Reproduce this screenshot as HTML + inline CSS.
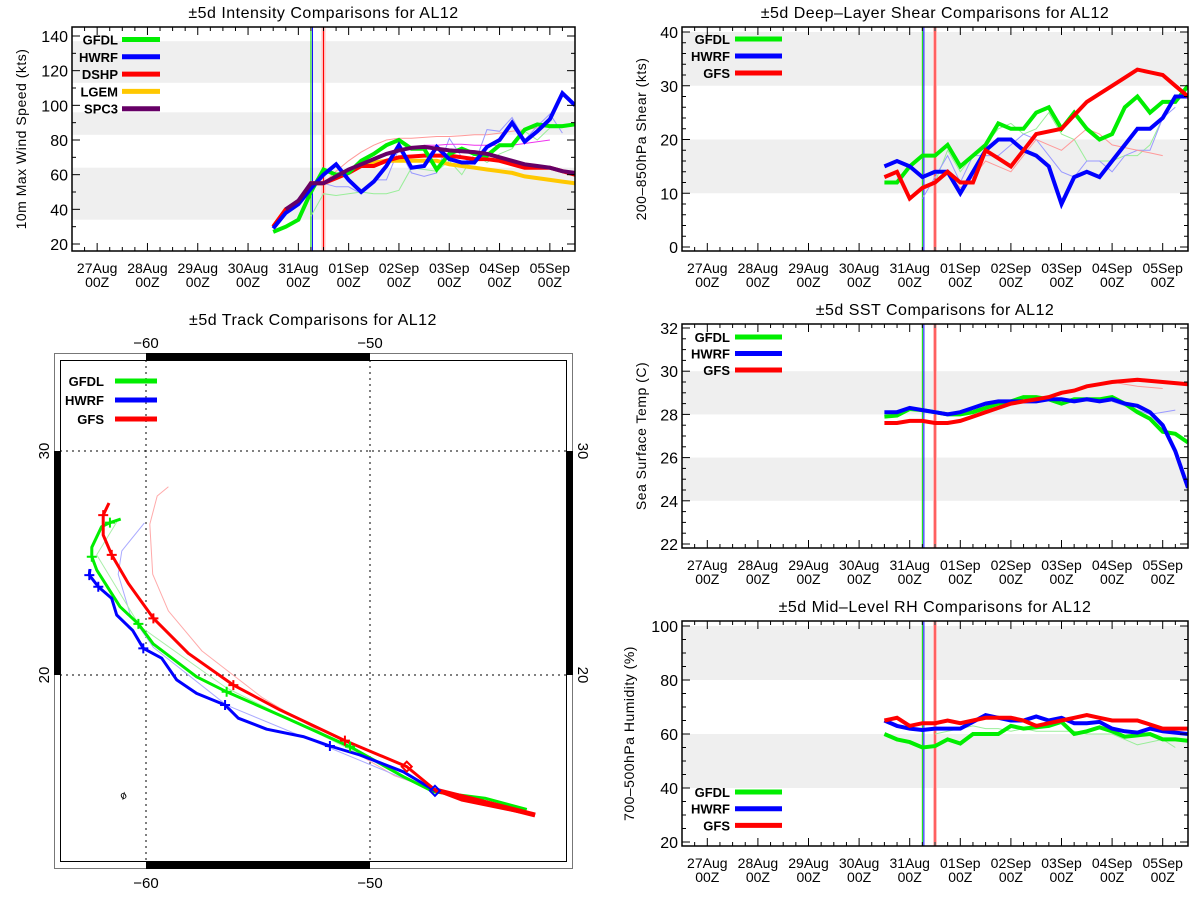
<!DOCTYPE html>
<html><head><meta charset="utf-8"><style>
html,body{margin:0;padding:0;background:#fff;}
svg{display:block;font-family:"Liberation Sans",sans-serif;}
</style></head><body>
<svg id="fig" width="1200" height="900" viewBox="0 0 1200 900" xmlns="http://www.w3.org/2000/svg"></svg>
<script>
// ---------- data ----------
const times = [3.5,3.75,4.0,4.25,4.5,4.75,5.0,5.25,5.5,5.75,6.0,6.25,6.5,6.75,7.0,7.25,7.5,7.75,8.0,8.25,8.5,8.75,9.0,9.25,9.5];
const dayLabels = ["27Aug","28Aug","29Aug","30Aug","31Aug","01Sep","02Sep","03Sep","04Sep","05Sep"];
const initLines = [4.25,4.28,4.5];

const intGFDL = [27,30,34,50,63,60,61,68,72,77,80,75,75,63,72,75,72,71,77,77,86,89,88,88,89];
const intHWRF = [29,38,43,52,60,66,57,50,56,65,77,64,65,76,69,67,67,76,80,90,79,85,92,107,100];
const intDSHP = [30,40,44,55,55,58,61,65,65,68,70,70.5,71,71,71,70,69,69,68,66,64,64,64,62,60];
const intLGEM = [30,40,44,55,55,59,62,66,67,68,68,68,68,68,66,65,64,63,62,61,59,58,57,56,55];
const intSPC3 = [null,40,45,55,55,59,63,66,69,72,74,75.5,76,75,74,73.5,73,72,70,68,66,65,64,62,61];
const intOldDSHP = [null,null,null,null,55,62,68,73,77,80,81,81,81.5,82,82,82.5,83,83,84,85,86,87,88,null,null];
const intOldHWRF = [null,null,null,null,55,53,53,49,57,57,75,61,59,61,81,70,66,86,85,93,80,88,95,84,null];
const intOldGFDL = [null,null,null,36,49,48,49,50,49,49,51,64,63,62,68,60,72,67,72,75,85,80,87,87,null];
const intOldSPC3 = [null,null,null,null,null,null,null,null,null,null,null,null,77,77,77.5,77.5,77,77,77,77,78,79,80,null,null];

const shrGFDL = [12,12,15,17,17,19,15,17,19,23,22,22,25,26,22,25,22,20,21,26,28,25,27,27,30];
const shrHWRF = [15,16,15,13,14,14,10,14,18,20,20,18,17,15,8,13,14,13,16,19,22,22,24,28,28];
const shrGFS  = [13,14,9,11,12,14,12,12,18,16.5,15,18,21,21.5,22,24.5,27,28.5,30,31.5,33,32.5,32,30,28];
const shrOldGFDL = [null,null,null,null,12,18,14,17,19,22,23,21,22,25,21,20,16,16,16,17,17,19,24,null,null];
const shrOldHWRF = [null,null,null,9,13,17,12,17,17,17,19,21,20,17,14,13,16,16,14,17,18,18,24,26,null];
const shrOldGFS  = [null,null,null,null,12,14,11,13,16,15,14,17,20,19,18,20,22,21,19,18.5,18,17.5,17,null,null];

const sstGFDL = [27.9,27.95,28.25,28.2,28.1,28.0,28.0,28.1,28.3,28.5,28.6,28.8,28.8,28.7,28.5,28.7,28.7,28.7,28.8,28.5,28.1,27.8,27.2,27.1,26.7];
const sstHWRF = [28.1,28.1,28.3,28.2,28.1,28.0,28.1,28.3,28.5,28.6,28.6,28.6,28.6,28.7,28.7,28.6,28.7,28.6,28.7,28.5,28.4,28.1,27.5,26.3,24.6];
const sstGFS  = [27.6,27.6,27.7,27.7,27.6,27.6,27.7,27.9,28.1,28.3,28.5,28.6,28.7,28.8,29.0,29.1,29.3,29.4,29.5,29.55,29.6,29.55,29.5,29.45,29.4];
const sstOldGFS  = [null,null,null,null,null,null,null,null,null,null,null,null,null,null,null,null,null,null,29.5,29.4,29.3,29.25,29.2,null,null];
const sstOldHWRF = [null,null,null,null,null,null,null,null,null,null,null,null,null,null,null,null,null,null,28.6,28.4,28.2,28.0,28.1,28.2,null];

const rhGFDL = [60,58,57,55,55.5,58,56.5,60,60,60,63,62,62.5,63,64.5,60,61,62.5,61,59,59.5,60,58,58,57.5];
const rhHWRF = [65,63,62,61.5,62,62,62,64.5,67,66,65,65,66.5,65,66,64,64,64.5,62,61,60.5,62,61,60.5,60];
const rhGFS  = [65,66,63,64,64,65,64,65,66,66,66,65,63,64,65,66,67,66,65,65,65,63.5,62,62,62];
const rhOldGFDL = [null,null,null,null,60,61,62,63,62,62,61,62,61,61,61,61,60,60,60,58,56,57,58,55,null];

// track (lon, lat)
const trkGFSLon = [-42.63,-45.91,-47.10,-48.36,-51.12,-54.02,-56.10,-58.11,-59.67,-60.79,-61.53,-61.91,-61.91,-61.65];
const trkGFSLat = [13.75,14.42,14.87,15.91,17.07,18.44,19.55,20.97,22.53,24.09,25.36,26.25,27.14,27.68];
const trkGFDLLon = [-43.00,-44.87,-47.17,-48.51,-50.89,-53.72,-56.40,-57.74,-59.67,-60.34,-61.16,-62.20,-62.42,-62.42,-61.98,-61.61,-61.13];
const trkGFDLLat = [14.00,14.50,14.79,15.46,16.80,18.07,19.25,19.92,21.38,22.28,23.05,24.69,25.28,25.70,26.62,26.80,26.96];
const trkHWRFLon = [-47.10,-48.51,-50.45,-51.79,-52.98,-54.61,-55.88,-56.47,-57.74,-58.63,-59.30,-60.12,-60.59,-61.31,-61.53,-62.13,-62.53,-62.50];
const trkHWRFLat = [14.83,15.68,16.43,16.83,17.25,17.58,18.07,18.66,19.18,19.78,20.75,21.19,21.98,22.68,23.42,23.94,24.46,24.73];
const trkOldGFSLon = [-47.10,-48.9,-54.82,-57.5,-59.0,-59.7,-59.83,-59.5,-59.0];
const trkOldGFSLat = [14.87,15.5,19.0,21.07,22.86,24.5,26.73,27.99,28.4];
const trkOldHWRFLon = [-47.17,-56.4,-59.67,-60.71,-61.24,-61.08,-60.07];
const trkOldHWRFLat = [14.83,18.65,21.23,22.72,24.5,25.54,26.79];
const trkOldGFDLLon = [-47.17,-56.4,-60.27,-62.2,-61.3];
const trkOldGFDLLat = [14.83,19.42,22.17,25.36,26.84];
const crossGFS = [4,6,8,10,12];
const crossGFDL = [4,6,9,12,15];
const crossHWRF = [3,7,11,15,16];

// ---------- helpers ----------
const NS = "http://www.w3.org/2000/svg";
const svg = document.getElementById('fig');
function mk(tag, attrs, parent){
  const e = document.createElementNS(NS, tag);
  for (const k in attrs) e.setAttribute(k, attrs[k]);
  (parent||svg).appendChild(e);
  return e;
}
function txt(parent, x, y, s, size, anchor, extra){
  const t = mk('text', Object.assign({x:x, y:y, 'font-size':size, 'text-anchor':anchor||'middle', fill:'#000'}, extra||{}), parent);
  t.textContent = s;
  return t;
}

function timePanel(cfg){
  const g = mk('g', {});
  
  
  const X = t => cfg.x0 + (t + 0.5) * (cfg.x1 - cfg.x0) / 10;
  const Y = v => cfg.yA + (v - cfg.vA) * (cfg.yB - cfg.yA) / (cfg.vB - cfg.vA);
  const clipId = 'clip-' + cfg.name;
  const cp = mk('clipPath', {id: clipId}, g);
  mk('rect', {x:cfg.x0, y:cfg.y0, width:cfg.x1-cfg.x0, height:cfg.y1-cfg.y0}, cp);
  cfg.bands.forEach(b => {
    const lo = Math.max(b[0], cfg.vmin), hi = Math.min(b[1], cfg.vmax);
    const r = mk('rect', {x:cfg.x0, y:Y(hi), width:cfg.x1-cfg.x0, height:Y(lo)-Y(hi), fill:'#efefef'}, g);
    
    
  });
  const band = mk('rect', {x:X(initLines[2])-2, y:cfg.y0, width:4, height:cfg.y1-cfg.y0, fill:'#ffc0c0'}, g);
  
  
  const lineCols = ['#00dd00','#0000ff','#ff0000'];
  initLines.forEach((t,i) => {
    const l = mk('line', {x1:X(t), x2:X(t), y1:cfg.y0, y2:cfg.y1, stroke:lineCols[i], 'stroke-width':1}, g);
    
    
  });
  const sg = mk('g', {'clip-path':'url(#'+clipId+')'}, g);
  cfg.series.forEach(s => {
    let d = '', pen = false;
    s.v.forEach((v,i) => {
      if (v === null) { pen = false; return; }
      d += (pen ? 'L' : 'M') + X(times[i]).toFixed(1) + ',' + Y(v).toFixed(1);
      pen = true;
    });
    const p = mk('path', {d:d, fill:'none', stroke:s.c, 'stroke-width':s.w, 'stroke-linejoin':'miter', opacity:s.o||1}, sg);
    
    
  });
  const fr = mk('rect', {x:cfg.x0, y:cfg.y0, width:cfg.x1-cfg.x0, height:cfg.y1-cfg.y0, fill:'none', stroke:'#000', 'stroke-width':1.5}, g);
  
  
  for (let k = -2; k <= 38; k++) {
    const t = k / 4, x = X(t), major = (k % 4 === 0);
    const len = major ? 8 : 4;
    mk('line', {x1:x, x2:x, y1:cfg.y1, y2:cfg.y1-len, stroke:'#000'}, g);
    mk('line', {x1:x, x2:x, y1:cfg.y0, y2:cfg.y0+len, stroke:'#000'}, g);
  }
  dayLabels.forEach((s,i) => {
    const a = txt(g, X(i), cfg.y1+22, s, 14);
    
    
    const b = txt(g, X(i), cfg.y1+36, '00Z', 14);
    
    
  });
  for (let v = cfg.vmin; v <= cfg.vmax + 1e-6; v += cfg.minor) {
    const y = Y(v), major = Math.abs(v/cfg.major - Math.round(v/cfg.major)) < 1e-6;
    const len = major ? 8 : 4;
    mk('line', {x1:cfg.x0, x2:cfg.x0+len, y1:y, y2:y, stroke:'#000'}, g);
    mk('line', {x1:cfg.x1, x2:cfg.x1-len, y1:y, y2:y, stroke:'#000'}, g);
    if (major) {
      const l = txt(g, cfg.x0-4, y+6, String(Math.round(v)), 16, 'end');
      
      
    }
  }
  const tt = txt(g, (cfg.x0+cfg.x1)/2, cfg.y0-9, cfg.title, 16, 'middle', {'letter-spacing':'0.5'});
  
  
  const cy = (cfg.y0+cfg.y1)/2;
  const yt = txt(g, cfg.ytx, cy, cfg.ytitle, 14, 'middle', {transform:'rotate(-90 '+cfg.ytx+' '+cy+')', 'letter-spacing':'0.5'});
  
  
  cfg.legend.forEach((e,i) => {
    const y = cfg.legY + i*cfg.legDy;
    const lt = txt(g, cfg.legX, y+5, e[0], 13, 'end', {'font-weight':'bold'});
    
    
    const ll = mk('line', {x1:cfg.legX+cfg.legGap, x2:cfg.legX+cfg.legGap+cfg.legLen, y1:y, y2:y, stroke:e[1], 'stroke-width':5}, g);
    
    
  });
}

const G='#00ee00', B='#0000ff', R='#ff0000', Y='#ffc800', P='#660066';

timePanel({name:'intensity-panel', x0:72, x1:575, y0:27, y1:251, vA:140, yA:36, vB:20, yB:244, vmin:20, vmax:140, major:20, minor:10,
  bands:[[34,64],[83,96],[113,137]], title:'±5d Intensity Comparisons for AL12', ytitle:'10m Max Wind Speed (kts)', ytx:26,
  legX:118, legGap:4, legLen:38, legY:39.5, legDy:17.3, legend:[['GFDL',G],['HWRF',B],['DSHP',R],['LGEM',Y],['SPC3',P]],
  series:[{v:intOldDSHP,c:'#ff9999',w:1,n:'dshp-previous-line'},{v:intOldHWRF,c:'#9999ff',w:1,n:'hwrf-previous-line'},
    {v:intOldGFDL,c:'#99ee99',w:1,n:'gfdl-previous-line'},{v:intOldSPC3,c:'#ee33ee',w:1,n:'spc3-previous-line'},
    {v:intLGEM,c:Y,w:4,n:'lgem-line'},{v:intDSHP,c:R,w:4,n:'dshp-line'},{v:intGFDL,c:G,w:4,n:'gfdl-line'},
    {v:intHWRF,c:B,w:4,n:'hwrf-line'},{v:intSPC3,c:P,w:4,n:'spc3-line'}]});

timePanel({name:'shear-panel', x0:682, x1:1188, y0:27, y1:251, vA:40, yA:32, vB:0, yB:247, vmin:0, vmax:40, major:10, minor:2,
  bands:[[10,20],[30,42]], title:'±5d Deep–Layer Shear Comparisons for AL12', ytitle:'200–850hPa Shear (kts)', ytx:646,
  legX:730, legGap:5, legLen:47, legY:39, legDy:17, legend:[['GFDL',G],['HWRF',B],['GFS',R]],
  series:[{v:shrOldGFDL,c:'#99ee99',w:1,n:'gfdl-previous-line'},{v:shrOldHWRF,c:'#9999ff',w:1,n:'hwrf-previous-line'},
    {v:shrOldGFS,c:'#ff9999',w:1,n:'gfs-previous-line'},
    {v:shrGFDL,c:G,w:4,n:'gfdl-line'},{v:shrHWRF,c:B,w:4,n:'hwrf-line'},{v:shrGFS,c:R,w:4,n:'gfs-line'}]});

timePanel({name:'sst-panel', x0:682, x1:1188, y0:324, y1:548, vA:32, yA:328, vB:22, yB:544, vmin:22, vmax:32, major:2, minor:0.5,
  bands:[[24,26],[28,30]], title:'±5d SST Comparisons for AL12', ytitle:'Sea Surface Temp (C)', ytx:646,
  legX:730, legGap:5, legLen:47, legY:337, legDy:16.5, legend:[['GFDL',G],['HWRF',B],['GFS',R]],
  series:[{v:sstOldGFS,c:'#ff9999',w:1,n:'gfs-previous-line'},{v:sstOldHWRF,c:'#9999ff',w:1,n:'hwrf-previous-line'},
    {v:sstGFDL,c:G,w:4,n:'gfdl-line'},{v:sstHWRF,c:B,w:4,n:'hwrf-line'},{v:sstGFS,c:R,w:4,n:'gfs-line'}]});

timePanel({name:'rh-panel', x0:682, x1:1188, y0:621, y1:846, vA:100, yA:626, vB:20, yB:842, vmin:20, vmax:100, major:20, minor:5,
  bands:[[40,60],[80,100]], title:'±5d Mid–Level RH Comparisons for AL12', ytitle:'700–500hPa Humidity (%)', ytx:634,
  legX:730, legGap:5, legLen:47, legY:792, legDy:16.7, legend:[['GFDL',G],['HWRF',B],['GFS',R]],
  series:[{v:rhOldGFDL,c:'#99ee99',w:1,n:'gfdl-previous-line'},
    {v:rhGFDL,c:G,w:4,n:'gfdl-line'},{v:rhHWRF,c:B,w:4,n:'hwrf-line'},{v:rhGFS,c:R,w:4,n:'gfs-line'}]});

// ---------- track panel ----------
(function(){
  const g = mk('g', {});
  
  
  const LX = lon => 146 + (lon + 60) * 22.4;
  const LY = lat => 675 - (lat - 20) * 22.4;
  const t = txt(g, 313, 325, '±5d Track Comparisons for AL12', 16, 'middle', {'letter-spacing':'0.5'});
  
  
  const o = mk('rect', {x:54.5, y:353.5, width:518, height:515, fill:'none', stroke:'#777', 'stroke-width':1}, g);
  
  
  const inner = mk('rect', {x:60.5, y:360.5, width:506, height:501, fill:'none', stroke:'#000', 'stroke-width':1}, g);
  
  
  [[LX(-60),353,LX(-50)-LX(-60),7],[LX(-60),862,LX(-50)-LX(-60),7],[54,LY(30),6,LY(20)-LY(30)],[566,LY(30),7,LY(20)-LY(30)]].forEach(r => {
    const b = mk('rect', {x:r[0], y:r[1], width:r[2], height:r[3], fill:'#000'}, g);
    
    
  });
  [-60,-50].forEach(lon => {
    const l = mk('line', {x1:LX(lon), x2:LX(lon), y1:360, y2:862, stroke:'#000', 'stroke-dasharray':'2,4'}, g);
    
    
    const a = txt(g, LX(lon), 348, '−' + Math.abs(lon), 15);
    
    
    const b = txt(g, LX(lon), 888, '−' + Math.abs(lon), 15);
    
    
  });
  [30,20].forEach(lat => {
    const l = mk('line', {x1:60, x2:566, y1:LY(lat), y2:LY(lat), stroke:'#000', 'stroke-dasharray':'2,4'}, g);
    
    
    const a = txt(g, 49, LY(lat), String(lat), 15, 'middle', {transform:'rotate(-90 49 '+LY(lat)+')'});
    
    
    const b = txt(g, 578, LY(lat), String(lat), 15, 'middle', {transform:'rotate(90 578 '+LY(lat)+')'});
    
    
  });
  function track(lons, lats, col, w, name){
    let d = '';
    lons.forEach((lo,i) => { d += (i ? 'L' : 'M') + LX(lo).toFixed(1) + ',' + LY(lats[i]).toFixed(1); });
    const p = mk('path', {d:d, fill:'none', stroke:col, 'stroke-width':w, 'stroke-linejoin':'round'}, g);
    
    
  }
  function crosses(lons, lats, idx, col){
    idx.forEach(i => {
      const x = LX(lons[i]), y = LY(lats[i]);
      const c = mk('path', {d:'M'+(x-5)+','+y+'H'+(x+5)+'M'+x+','+(y-5)+'V'+(y+5), stroke:col, 'stroke-width':2}, g);
      
      
    });
  }
  track(trkOldGFSLon, trkOldGFSLat, '#ffaaaa', 1, 'gfs-previous-track');
  track(trkOldHWRFLon, trkOldHWRFLat, '#aaaaff', 1, 'hwrf-previous-track');
  track(trkOldGFDLLon, trkOldGFDLLat, '#aaeeaa', 1, 'gfdl-previous-track');
  track(trkGFDLLon, trkGFDLLat, G, 3, 'gfdl-track');
  track(trkHWRFLon, trkHWRFLat, B, 3, 'hwrf-track');
  track(trkGFSLon, trkGFSLat, R, 3, 'gfs-track');
  const th = mk('path', {d:'M'+LX(trkGFSLon[0])+','+LY(trkGFSLat[0])+'L'+LX(trkGFSLon[2])+','+LY(trkGFSLat[2]), stroke:R, 'stroke-width':5, fill:'none'}, g);
  
  
  crosses(trkGFSLon, trkGFSLat, crossGFS, R);
  crosses(trkGFDLLon, trkGFDLLat, crossGFDL, G);
  crosses(trkHWRFLon, trkHWRFLat, crossHWRF, B);
  [[trkGFSLon[3],trkGFSLat[3],R],[trkHWRFLon[0],trkHWRFLat[0],B]].forEach(d => {
    const x = LX(d[0]), y = LY(d[1]);
    const m = mk('path', {d:'M'+x+','+(y-5)+'L'+(x+5)+','+y+'L'+x+','+(y+5)+'L'+(x-5)+','+y+'Z', fill:'none', stroke:d[2], 'stroke-width':2}, g);
    
    
  });
  const sym = txt(g, 123, 799, 'ø', 11, 'middle', {transform:'rotate(-30 123 795)'});
  
  
  [['GFDL',G],['HWRF',B],['GFS',R]].forEach((e,i) => {
    const y = 381 + i*19;
    const lt = txt(g, 104, y+5, e[0], 13, 'end', {'font-weight':'bold'});
    
    
    const ll = mk('line', {x1:115, x2:157, y1:y, y2:y, stroke:e[1], 'stroke-width':5}, g);
    
    
  });
})();
</script>
</body></html>
